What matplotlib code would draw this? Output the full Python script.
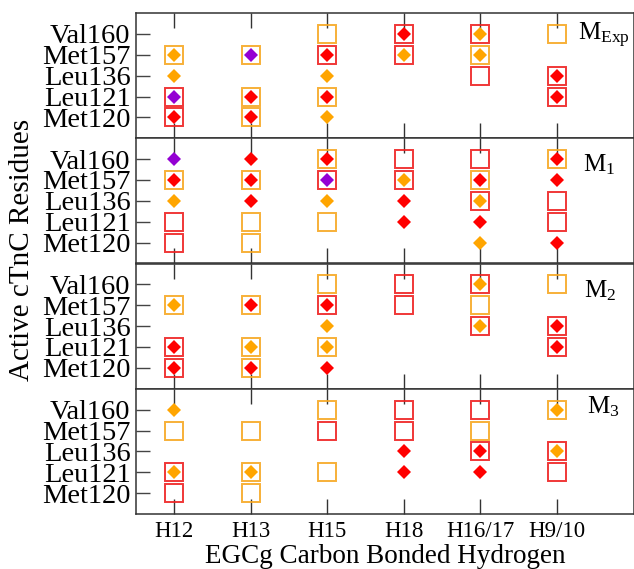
import matplotlib
matplotlib.use('Agg')
import matplotlib.pyplot as plt

plt.rcParams['font.family'] = ['Liberation Serif', 'DejaVu Serif']
plt.rcParams['mathtext.fontset'] = 'custom'
plt.rcParams['mathtext.rm'] = 'Liberation Serif'
plt.rcParams['mathtext.it'] = 'Liberation Serif:italic'

# Categorias
hidrogenios = ['H12', 'H13', 'H15', 'H18', 'H16/17', 'H9/10']
residuos = ['Met120', 'Leu121', 'Leu136', 'Met157', 'Val160']
paineis = ['$\\mathrm{M_{Exp}}$', '$\\mathrm{M_1}$', '$\\mathrm{M_2}$', '$\\mathrm{M_3}$']

# Quadrados (iguais em todos os paineis): linhas = residuos, colunas = hidrogenios
# r = vermelho, o = laranja, p = roxo, . = nada
quadrados = [
    'ro....',  # Met120
    'roo..r',  # Leu121
    '....rr',  # Leu136
    'oorro.',  # Met157
    '..orro',  # Val160
]

# Losangos de cada painel
losangos_exp = [
    'rro...',
    'prr..r',
    'o.o..r',
    'oproo.',
    '...ro.',
]
losangos_m1 = [
    '....or',
    '...rr.',
    'ororo.',
    'rrporr',
    'prr..r',
]
losangos_m2 = [
    'rrr...',
    'roo..r',
    '..o.or',
    'orr...',
    '....o.',
]
losangos_m3 = [
    '......',
    'oo.rr.',
    '...rro',
    '......',
    'o....o',
]
losangos = [losangos_exp, losangos_m1, losangos_m2, losangos_m3]

cores_quad = {'r': '#EE2222', 'o': '#F7A823'}
cores_los = {'r': '#FF0000', 'o': '#FFA500', 'p': '#9400D3'}

# posicoes dos rotulos M (fracao do eixo)
pos_rotulo = [(0.888, 0.936), (0.898, 0.888), (0.900, 0.884), (0.906, 0.952)]

W, H = 634, 569
fig = plt.figure(figsize=(W / 100, H / 100), dpi=100)

topo = 13
base = 514
alt = (base - topo) / 4.0
esq = 136

for k in range(4):
    y0 = topo + alt * (k + 1)
    ax = fig.add_axes([esq / W, 1 - y0 / H, (W - 0.5 - esq) / W, alt / H])

    xs = range(1, len(hidrogenios) + 1)
    ys = range(1, len(residuos) + 1)

    # Desenhar quadrados abertos
    for i, linha in enumerate(quadrados):
        for j, c in enumerate(linha):
            if c in cores_quad:
                ax.plot(j + 1, i + 1, marker='s', markersize=12.8, markerfacecolor='none',
                        markeredgecolor=cores_quad[c], markeredgewidth=1.4, linestyle='none',
                        alpha=0.9, zorder=3)

    # Desenhar losangos preenchidos
    for i, linha in enumerate(losangos[k]):
        for j, c in enumerate(linha):
            if c in cores_los:
                ax.plot(j + 1, i + 1, marker='D', markersize=7.2, color=cores_los[c],
                        markeredgewidth=0, linestyle='none', zorder=4)

    ax.set_xlim(0.5, 7.0)
    ax.set_ylim(0, 6)
    ax.set_xticks(list(xs))
    ax.set_yticks(list(ys))
    ax.set_yticklabels(residuos, fontsize=20.5)
    if k == 3:
        ax.set_xticklabels(hidrogenios, fontsize=16.5)
    else:
        ax.set_xticklabels([])

    ax.tick_params(axis='x', direction='in', top=True, bottom=True, length=11, width=1.0,
                   color='#333333', pad=5)
    ax.tick_params(axis='y', direction='in', left=True, right=False, length=10, width=1.0,
                   color='#444444', pad=4)
    for s in ax.spines.values():
        s.set_linewidth(1.1)
        s.set_color('#333333')

    ax.text(pos_rotulo[k][0], pos_rotulo[k][1], paineis[k], transform=ax.transAxes,
            fontsize=18, va='top', ha='left')

fig.text(385 / W, 1 - 563 / H, 'EGCg Carbon Bonded Hydrogen', fontsize=19.5,
         ha='center', va='baseline')
fig.text(22 / W, 1 - 250 / H, 'Active cTnC Residues', fontsize=21, rotation=90,
         ha='center', va='center')

fig.savefig('out.png', dpi=100)
